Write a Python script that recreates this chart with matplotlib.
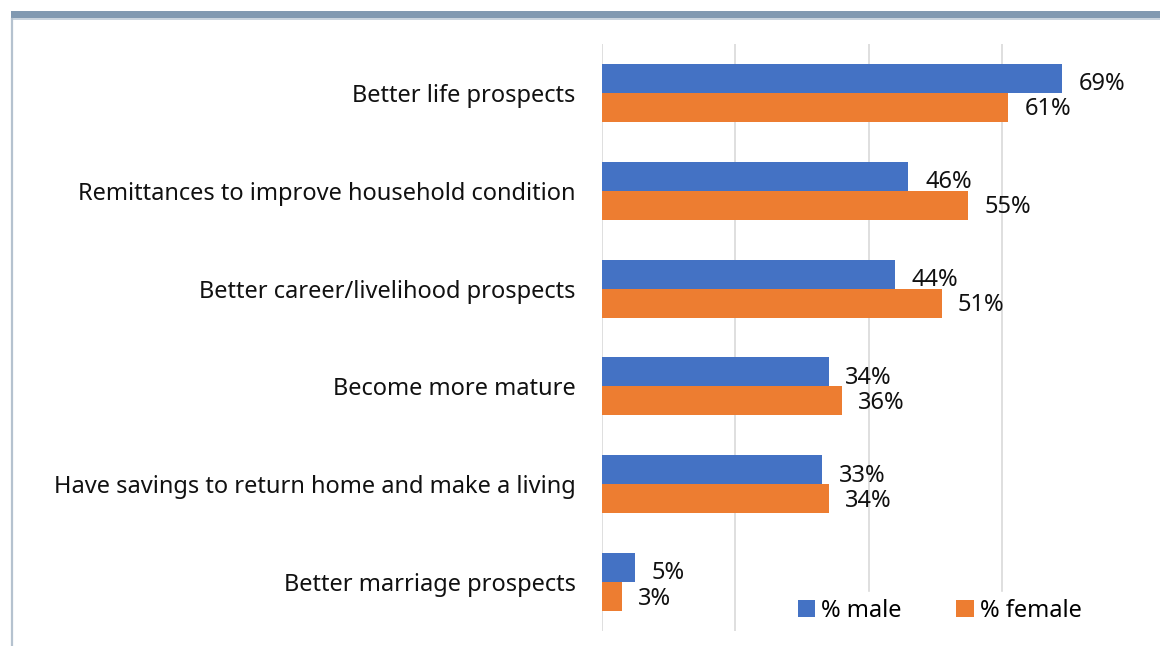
import matplotlib
matplotlib.use("Agg")
import matplotlib.pyplot as plt
from matplotlib.patches import Rectangle
from matplotlib.lines import Line2D

categories = [
    "Better life prospects",
    "Remittances to improve household condition",
    "Better career/livelihood prospects",
    "Become more mature",
    "Have savings to return home and make a living",
    "Better marriage prospects",
]
male = [69, 46, 44, 34, 33, 5]
female = [61, 55, 51, 36, 34, 3]
series_names = ["% male", "% female"]
colors = ["#4472C4", "#ED7D31"]

plt.rcParams["font.family"] = ["Noto Sans", "DejaVu Sans"]
FS = 17

fig = plt.figure(figsize=(11.6, 6.46), dpi=100)
fig.patch.set_facecolor("white")

# frame decorations: top band and left rule
fig.add_artist(Rectangle((11 / 1160, 1 - 19 / 646), 1 - 11 / 1160, 8 / 646,
                         transform=fig.transFigure, color="#8199B1", lw=0))
fig.add_artist(Rectangle((11 / 1160, 1 - 20 / 646), 1 - 11 / 1160, 1.5 / 646,
                         transform=fig.transFigure, color="#C9D3DD", lw=0))
fig.add_artist(Line2D([11.5 / 1160, 11.5 / 1160], [0, 1 - 19 / 646],
                      transform=fig.transFigure, color="#B5C2CF", lw=1.6))

ax = fig.add_axes([602 / 1160, 1 - 631 / 646, (1135 - 602) / 1160, (631 - 44) / 646])
n = len(categories)
y = list(range(n))
h = 0.296
ax.barh([v - h / 2 for v in y], male, height=h, color=colors[0], label=series_names[0], zorder=3)
ax.barh([v + h / 2 for v in y], female, height=h, color=colors[1], label=series_names[1], zorder=3)

ax.set_ylim(n - 0.5, -0.5)
ax.set_xlim(0, 80)
ax.set_xticks([0, 20, 40, 60])
ax.xaxis.grid(True, color="#D9D9D9", lw=1.2, zorder=0)
ax.tick_params(axis="x", length=0, labelbottom=False)
ax.tick_params(axis="y", length=0, pad=19)
ax.set_yticks(y)
ax.set_yticklabels(categories, fontsize=FS, color="#111111")
for s in ax.spines.values():
    s.set_visible(False)

for i in range(n):
    ax.text(male[i] + 2.5, y[i] - h / 2 + 0.06, f"{male[i]}%", va="center", ha="left",
            fontsize=FS, color="#111111", zorder=4)
    ax.text(female[i] + 2.4, y[i] + h / 2 + 0.02, f"{female[i]}%", va="center", ha="left",
            fontsize=FS, color="#111111", zorder=4)

leg = ax.legend(loc="center right", bbox_to_anchor=(1089 / 1160, 1 - 611 / 646),
                bbox_transform=fig.transFigure, borderaxespad=0, ncol=2, frameon=True,
                fontsize=FS, handlelength=0.76, handleheight=0.76, handletextpad=0.25,
                columnspacing=2.3, borderpad=0.3, edgecolor="white", fancybox=False,
                framealpha=1.0)
leg.set_zorder(5)

fig.savefig("out.png", dpi=100, facecolor="white")
